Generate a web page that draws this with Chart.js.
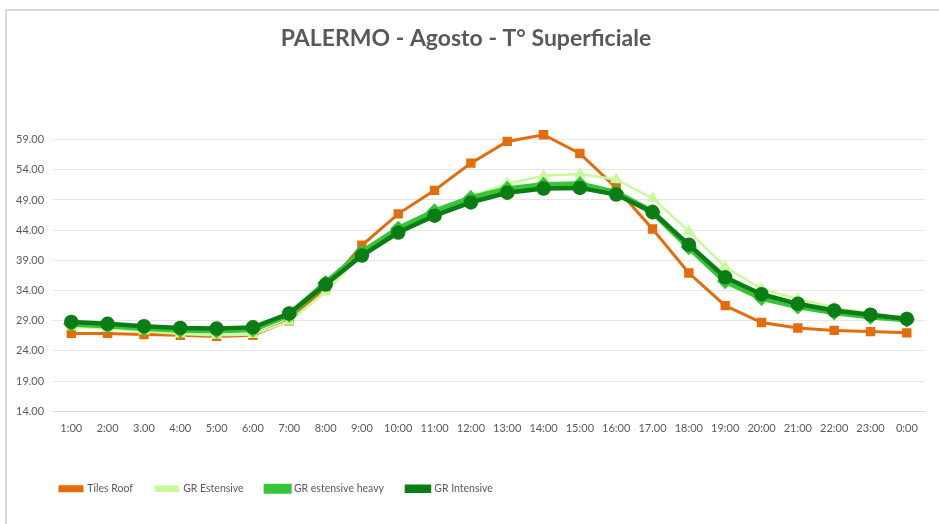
<!DOCTYPE html>
<html>
<head>
<meta charset="utf-8">
<script src="https://cdn.jsdelivr.net/npm/chart.js@4/dist/chart.umd.min.js"></script>
<style>
  html, body { margin: 0; padding: 0; background: #fff; }
  #box {
    position: absolute; left: 5px; top: 9px;
    width: 934px; height: 515px;
    border-top: 2px solid #d9d9d9; border-left: 2px solid #d9d9d9;
  }
  #wrap { position: relative; width: 932px; height: 513px; }
</style>
</head>
<body>
<div id="box"><div id="wrap"><canvas id="graficoTemp"></canvas></div></div>
<script>
        const ore = ['1:00', '2:00', '3.00', '4:00', '5:00', '6:00', '7:00', '8:00', '9:00', '10:00', '11:00', '12:00',
            '13:00', '14:00', '15:00', '16:00', '17.00', '18:00', '19:00', '20:00', '21:00', '22:00', '23:00', '0:00'];

        const tilesRoof = [26.9, 26.9, 26.7, 26.6, 26.4, 26.6, 29.0, 34.5, 41.5, 46.7, 50.6, 55.1,
            58.7, 59.8, 56.7, 51.0, 44.2, 36.9, 31.5, 28.7, 27.8, 27.4, 27.2, 27.0];
        const grEstensive = [28.0, 27.7, 27.3, 26.8, 26.6, 26.7, 28.9, 33.8, 40.0, 44.0, 47.2, 49.6,
            51.7, 53.0, 53.3, 52.4, 49.3, 43.8, 37.9, 34.3, 32.6, 31.2, 30.2, 29.4];
        const grEstensiveHeavy = [28.5, 28.2, 27.8, 27.5, 27.4, 27.6, 30.0, 35.2, 40.3, 44.2, 47.1, 49.3,
            50.8, 51.5, 51.6, 50.2, 47.0, 41.2, 35.6, 32.8, 31.4, 30.4, 29.7, 29.2];
        const grIntensive = [28.8, 28.5, 28.1, 27.8, 27.7, 27.9, 30.2, 35.0, 39.8, 43.6, 46.4, 48.6,
            50.2, 50.9, 51.0, 49.9, 47.0, 41.6, 36.2, 33.4, 31.8, 30.7, 30.0, 29.3];

        const graficoTemp = document.getElementById('graficoTemp');
        const grigio = '#595959';

        // sposta la legenda verso destra come in Excel
        const spostaLegenda = {
            id: 'spostaLegenda',
            afterLayout(chart) {
                chart.legend.left += 30;
            }
        };

        new Chart(graficoTemp, {
            type: 'line',
            plugins: [spostaLegenda],
            data: {
                labels: ore,
                // ordine inverso: l'ultima serie di Excel resta sopra
                datasets: [{
                    label: 'GR Intensive',
                    data: grIntensive,
                    borderColor: '#0a7d14',
                    backgroundColor: '#0a7d14',
                    borderWidth: 4.5,
                    pointStyle: 'circle',
                    pointRadius: 5,
                    clip: false
                }, {
                    label: 'GR estensive heavy',
                    data: grEstensiveHeavy,
                    borderColor: '#38c43a',
                    backgroundColor: '#38c43a',
                    borderWidth: 6,
                    pointStyle: 'rectRot',
                    pointRadius: 4,
                    clip: false
                }, {
                    label: 'GR Estensive',
                    data: grEstensive,
                    borderColor: '#c8fa9a',
                    backgroundColor: '#c8fa9a',
                    borderWidth: 2.5,
                    pointStyle: 'triangle',
                    pointRadius: 4.5,
                    clip: false
                }, {
                    label: 'Tiles Roof',
                    data: tilesRoof,
                    borderColor: '#e46c0a',
                    backgroundColor: '#e46c0a',
                    borderWidth: 3,
                    pointStyle: 'rect',
                    pointRadius: 4.5,
                    clip: false
                }]
            },
            options: {
                responsive: true,
                maintainAspectRatio: false,
                animation: false,
                layout: { padding: { left: 0, right: 14, top: 0, bottom: 20 } },
                plugins: {
                    title: {
                        display: true,
                        text: 'PALERMO - Agosto - T° Superficiale',
                        color: grigio,
                        font: { family: 'Lato', size: 23, weight: 'bold' },
                        padding: { top: 14, bottom: 87 }
                    },
                    legend: {
                        position: 'bottom',
                        align: 'start',
                        reverse: true,
                        labels: {
                            color: grigio,
                            font: { family: 'Lato', size: 10.5 },
                            boxWidth: 22,
                            boxHeight: 4,
                            padding: 23
                        }
                    },
                    tooltip: { enabled: false }
                },
                scales: {
                    x: {
                        offset: true,
                        grid: { display: false },
                        border: { color: '#d9d9d9' },
                        ticks: { color: grigio, font: { family: 'Lato', size: 11 }, maxRotation: 0, autoSkip: false },
                        afterFit: s => { s.height += 22; }
                    },
                    y: {
                        min: 14,
                        max: 59,
                        grid: { color: '#e6e6e6', drawTicks: false },
                        border: { display: false },
                        ticks: {
                            stepSize: 5,
                            color: grigio,
                            font: { family: 'Lato', size: 11 },
                            padding: 9,
                            callback: v => v.toFixed(2)
                        }
                    }
                }
            }
        });
</script>
</body>
</html>
